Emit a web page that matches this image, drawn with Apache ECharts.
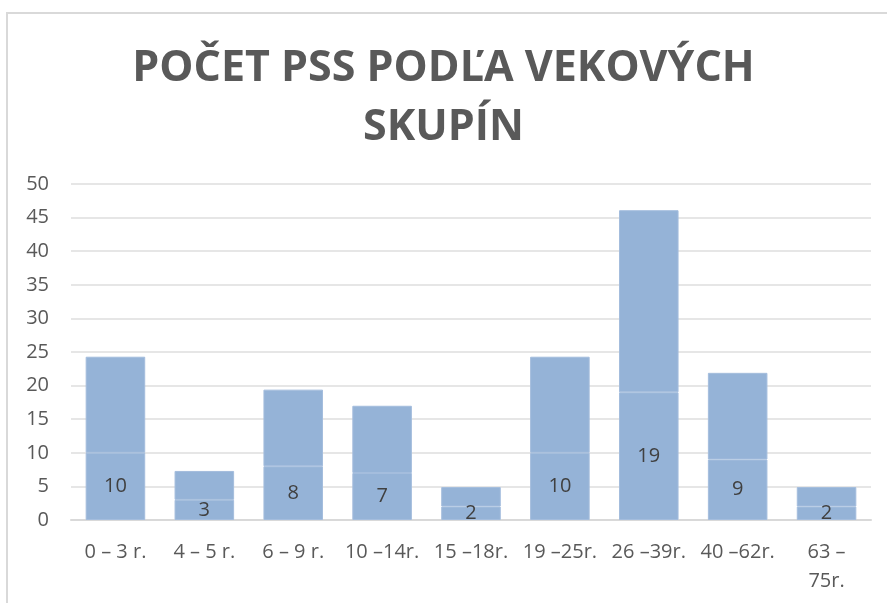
<!DOCTYPE html>
<html>
<head>
<meta charset="utf-8">
<script src="https://cdn.jsdelivr.net/npm/echarts@6/dist/echarts.min.js"></script>
<style>
  html, body { margin: 0; padding: 0; background: #fff; }
  #chart { width: 887px; height: 603px; }
</style>
</head>
<body>
<div id="chart"></div>
<script>
// kategórie a hodnoty
var categories = ['0 – 3 r.', '4 – 5 r.', '6 – 9 r.', '10 –14r.', '15 –18r.', '19 –25r.', '26 –39r.', '40 –62r.', '63 –\n75r.'];
var pocet = [10, 3, 8, 7, 2, 10, 19, 9, 2];
var percenta = [14.3, 4.3, 11.4, 10, 2.9, 14.3, 27.1, 12.9, 2.9];
var yTicks = [0, 5, 10, 15, 20, 25, 30, 35, 40, 45, 50];

var myChart = echarts.init(document.getElementById('chart'));

var option = {
  animation: false,
  title: {
    text: 'POČET PSS PODĽA VEKOVÝCH\nSKUPÍN',
    left: 'center',
    top: 34,
    textStyle: {
      fontFamily: 'Open Sans',
      fontWeight: 'bold',
      fontSize: 43,
      lineHeight: 59,
      color: '#595959'
    }
  },
  graphic: [
    {
      type: 'rect',
      shape: { x: 7, y: 13, width: 900, height: 700 },
      style: { fill: 'none', stroke: '#d9d9d9', lineWidth: 2 },
      silent: true
    }
  ],
  grid: { left: 71, right: 16, top: 184, bottom: 83, containLabel: false },
  xAxis: {
    type: 'category',
    data: categories,
    axisTick: { show: false },
    axisLine: { lineStyle: { color: '#d9d9d9', width: 2 } },
    axisLabel: {
      color: '#595959',
      fontFamily: 'Open Sans',
      fontSize: 20,
      lineHeight: 29,
      margin: 18,
      interval: 0
    }
  },
  yAxis: {
    type: 'value',
    min: yTicks[0],
    max: yTicks[yTicks.length - 1],
    interval: 5,
    axisLine: { show: false },
    axisTick: { show: false },
    splitLine: { lineStyle: { color: '#e6e6e6', width: 2 } },
    axisLabel: {
      color: '#595959',
      fontFamily: 'Open Sans',
      fontSize: 20,
      margin: 22
    }
  },
  series: [
    {
      name: 'Počet',
      type: 'bar',
      stack: 'spolu',
      data: pocet,
      barCategoryGap: '33%',
      itemStyle: { color: '#95b3d7', borderColor: '#a4bddd', borderWidth: 1 },
      label: {
        show: true,
        position: 'inside',
        color: '#404040',
        fontFamily: 'Open Sans',
        fontSize: 20
      }
    },
    {
      name: '%',
      type: 'bar',
      stack: 'spolu',
      data: percenta,
      itemStyle: { color: '#95b3d7', borderColor: '#a4bddd', borderWidth: 1 },
      label: { show: false }
    }
  ]
};

myChart.setOption(option);
</script>
</body>
</html>
